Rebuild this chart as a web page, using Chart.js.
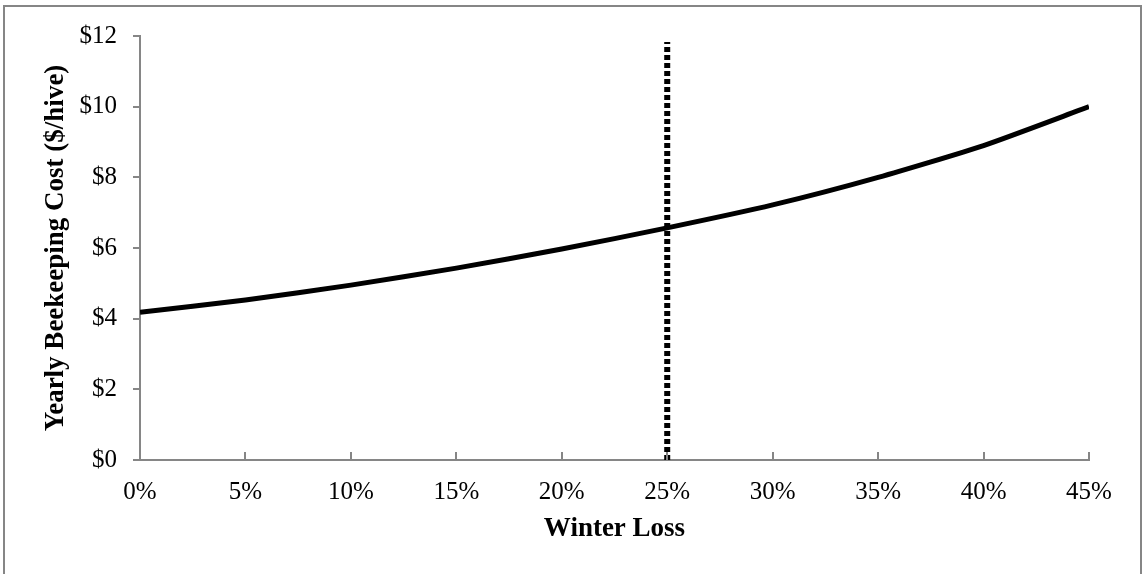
<!DOCTYPE html>
<html>
<head>
<meta charset="utf-8">
<script src="https://cdn.jsdelivr.net/npm/chart.js@4.4.0/dist/chart.umd.min.js"></script>
<style>
  html, body { margin: 0; padding: 0; background: #fff; }
  #wrap { position: relative; width: 1142px; height: 574px; }
</style>
</head>
<body>
<div id="wrap"><canvas id="lossChart" width="1142" height="574"></canvas></div>
<script>
// winter loss (%) and yearly cost per hive ($)
var winterLoss = [0, 5, 10, 15, 20, 25, 30, 35, 40, 45];
var yearlyCost = [4.18, 4.53, 4.95, 5.43, 5.97, 6.57, 7.22, 8.0, 8.9, 10.0];
// vertical marker at 25% loss
var markerX = [25, 25];
var markerY = [0, 11.83];

var axisGray = '#868686';

var costPoints = winterLoss.map(function (x, i) { return { x: x, y: yearlyCost[i] }; });
var markerPoints = markerX.map(function (x, i) { return { x: x, y: markerY[i] }; });

// outer frame + inward tick marks on the x axis
var framePlugin = {
  id: 'frame',
  afterDraw: function (chart) {
    var ctx = chart.ctx;
    ctx.save();
    ctx.strokeStyle = axisGray;
    ctx.lineWidth = 2;
    ctx.strokeRect(4, 6, 1137, 620);
    var xs = chart.scales.x;
    var bottom = chart.chartArea.bottom;
    xs.ticks.forEach(function (t) {
      var px = Math.round(xs.getPixelForValue(t.value));
      ctx.beginPath();
      ctx.moveTo(px, bottom);
      ctx.lineTo(px, bottom - 8);
      ctx.stroke();
    });
    ctx.restore();
  }
};

var ctx = document.getElementById('lossChart').getContext('2d');
var chart = new Chart(ctx, {
  type: 'line',
  data: {
    datasets: [{
      data: markerPoints,
      borderColor: '#000',
      borderWidth: 6,
      borderDash: [5, 3],
      borderCapStyle: 'butt',
      pointRadius: 0,
      fill: false
    }, {
      data: costPoints,
      borderColor: '#000',
      borderWidth: 5,
      tension: 0.2,
      pointRadius: 0,
      fill: false
    }]
  },
  options: {
    responsive: false,
    animation: false,
    layout: { padding: { left: 0, top: 36, right: 53, bottom: 0 } },
    plugins: { legend: { display: false }, tooltip: { enabled: false } },
    scales: {
      x: {
        type: 'linear',
        min: 0,
        max: 45,
        afterFit: function (s) { s.height = 114; },
        ticks: {
          stepSize: 5,
          padding: 17,
          color: '#000',
          font: { family: 'Liberation Serif', size: 25 },
          callback: function (v) { return v + '%'; }
        },
        grid: { drawOnChartArea: false, drawTicks: false },
        border: { color: axisGray, width: 2 },
        title: {
          display: true,
          text: 'Winter Loss',
          color: '#000',
          padding: { top: 0, bottom: 29 },
          font: { family: 'Liberation Serif', size: 27, weight: 'bold' }
        }
      },
      y: {
        min: 0,
        max: 12,
        afterFit: function (s) { s.width = 140; },
        ticks: {
          stepSize: 2,
          padding: 16,
          color: '#000',
          font: { family: 'Liberation Serif', size: 25 },
          callback: function (v) { return '$' + v; }
        },
        grid: { drawOnChartArea: false, drawTicks: true, tickLength: 7, color: axisGray, lineWidth: 2 },
        border: { color: axisGray, width: 2 },
        title: {
          display: true,
          text: 'Yearly Beekeeping Cost ($/hive)',
          color: '#000',
          padding: { top: 40, bottom: 0 },
          font: { family: 'Liberation Serif', size: 27, weight: 'bold' }
        }
      }
    }
  },
  plugins: [framePlugin]
});
</script>
</body>
</html>
